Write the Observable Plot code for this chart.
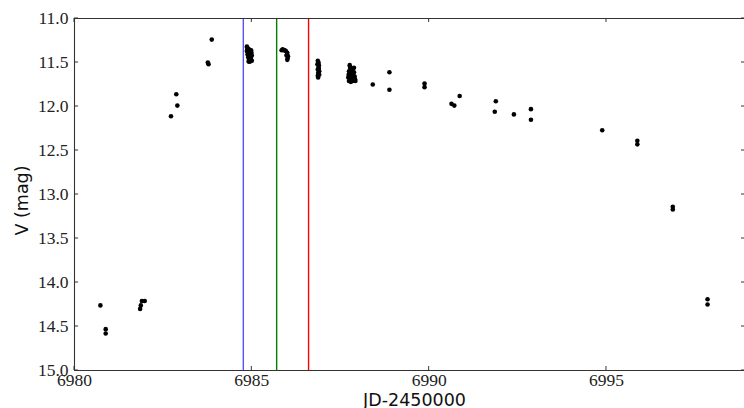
<!DOCTYPE html>
<html><head><meta charset="utf-8">
<script src="https://cdn.jsdelivr.net/npm/d3@7"></script>
<script src="https://cdn.jsdelivr.net/npm/@observablehq/plot@0.6"></script>
<style>
html,body{margin:0;padding:0;overflow:hidden;background:#fff}
</style>
</head><body><div id="chart"></div>
<script>
// Light curve: Julian date (JD-2450000) and V magnitude
const jd = [
  6980.73, 6980.88, 6980.88,
  6981.85, 6981.87, 6981.90, 6981.98,
  6982.72, 6982.87, 6982.90,
  6983.76, 6983.78, 6983.87,
  6984.86, 6984.88, 6984.86, 6984.90, 6984.88, 6984.94, 6984.90, 6984.96, 6984.92, 6984.98, 6984.95, 6985.00, 6984.98, 6985.00,
  6984.87, 6984.89, 6984.92, 6984.94, 6984.97, 6984.99, 6984.91, 6984.93,
  6985.84, 6985.90, 6985.96, 6986.00, 6985.98, 6986.01, 6986.00, 6985.87, 6985.93, 6985.99, 6986.02,
  6986.86, 6986.85, 6986.88, 6986.86, 6986.90, 6986.87, 6986.90, 6986.86, 6986.88, 6986.89, 6986.87, 6986.89,
  6987.76, 6987.78, 6987.74, 6987.82, 6987.76, 6987.86, 6987.72, 6987.80, 6987.90, 6987.74, 6987.84, 6987.92, 6987.88,
  6987.77, 6987.80, 6987.84, 6987.88, 6987.73, 6987.81, 6987.87, 6987.91, 6987.79,
  6988.41, 6988.88, 6988.88,
  6989.87, 6989.87,
  6990.63, 6990.71, 6990.86,
  6991.88, 6991.85,
  6992.39, 6992.87, 6992.87,
  6994.88,
  6995.87, 6995.87,
  6996.87, 6996.87,
  6997.85, 6997.85
];
const vmag = [
  14.26, 14.53, 14.58,
  14.30, 14.26, 14.21, 14.21,
  12.11, 11.86, 11.99,
  11.50, 11.52, 11.24,
  11.32, 11.34, 11.37, 11.38, 11.41, 11.40, 11.44, 11.44, 11.47, 11.47, 11.49, 11.48, 11.36, 11.42,
  11.33, 11.39, 11.35, 11.46, 11.45, 11.39, 11.49, 11.42,
  11.36, 11.36, 11.37, 11.39, 11.42, 11.45, 11.47, 11.35, 11.36, 11.41, 11.43,
  11.48, 11.52, 11.55, 11.58, 11.60, 11.62, 11.64, 11.65, 11.50, 11.57, 11.67, 11.53,
  11.53, 11.57, 11.60, 11.60, 11.64, 11.63, 11.67, 11.68, 11.66, 11.71, 11.71, 11.71, 11.56,
  11.55, 11.62, 11.58, 11.61, 11.64, 11.65, 11.69, 11.69, 11.72,
  11.75, 11.61, 11.81,
  11.74, 11.78,
  11.97, 11.99, 11.88,
  11.94, 12.06,
  12.09, 12.03, 12.15,
  12.27,
  12.39, 12.43,
  13.14, 13.17,
  14.19, 14.25
];
const markerJD = [6984.76, 6985.70, 6986.60];
const markerColors = ["#5555ff", "#008000", "#ff0000"];
const xTicks = [6980, 6985, 6990, 6995];
const yTicks = [11.0, 11.5, 12.0, 12.5, 13.0, 13.5, 14.0, 14.5, 15.0];
const xLabel = "JD-2450000";
const yLabel = "V (mag)";

const data = jd.map((d, i) => ({jd: d, v: vmag[i]}));
const markers = markerJD.map((d, i) => ({jd: d, color: markerColors[i]}));

const serif = "Liberation Serif";
const sans = "DejaVu Sans";

const plot = Plot.plot({
  width: 744,
  height: 408,
  marginLeft: 74,
  marginRight: 0,
  marginTop: 18,
  marginBottom: 38,
  x: {domain: [6980, 6998.92], range: [74, 745], axis: null},
  y: {domain: [11, 15], range: [18, 370], axis: null},
  style: {background: "white", color: "#222", fontFamily: "Liberation Serif, serif"},
  marks: [
    Plot.ruleX(markers, {x: "jd", stroke: "color", strokeWidth: 1.4}),
    Plot.dot(data, {x: "jd", y: "v", r: 2.3, fill: "black", stroke: "none"}),
    Plot.ruleY([11, 15], {stroke: "#333", strokeWidth: 1.1}),
    Plot.ruleX([6980], {stroke: "#333", strokeWidth: 1.1}),
    Plot.text(xTicks, {x: d => d, frameAnchor: "bottom", lineAnchor: "top", dy: 3, text: d => String(d), fontFamily: serif, fontSize: 17.5, fill: "#222"}),
    Plot.text(yTicks, {y: d => d, frameAnchor: "left", textAnchor: "end", dx: -6, text: d => d.toFixed(1), fontFamily: serif, fontSize: 17.5, fill: "#222"}),
    Plot.text([xLabel], {frameAnchor: "bottom", textAnchor: "middle", dy: 35, dx: 5, fontFamily: sans, fontSize: 17.5, fill: "#111"}),
    Plot.text([yLabel], {frameAnchor: "left", textAnchor: "middle", lineAnchor: "middle", rotate: -90, dx: -52, dy: 6, fontFamily: sans, fontSize: 17.5, fill: "#111"})
  ]
});

// inward tick marks on all four sides, positioned with the plot's own scales
const sx = plot.scale("x"), sy = plot.scale("y");
const svgSel = d3.select(plot);
const tickG = svgSel.append("g").attr("stroke", "#333").attr("stroke-width", 1);
const yTop = sy.apply(11), yBottom = sy.apply(15), xLeft = sx.apply(6980), xRight = sx.apply(6998.92);
const tickLen = 4;
for (const t of xTicks) {
  const px = sx.apply(t);
  tickG.append("line").attr("x1", px).attr("x2", px).attr("y1", yBottom).attr("y2", yBottom - tickLen);
  tickG.append("line").attr("x1", px).attr("x2", px).attr("y1", yTop).attr("y2", yTop + tickLen);
}
for (const t of yTicks) {
  const py = sy.apply(t);
  tickG.append("line").attr("x1", xLeft).attr("x2", xLeft + tickLen).attr("y1", py).attr("y2", py);
  tickG.append("line").attr("x1", xRight).attr("x2", xRight - tickLen).attr("y1", py).attr("y2", py);
}
document.getElementById("chart").append(plot);
</script>
</body></html>
